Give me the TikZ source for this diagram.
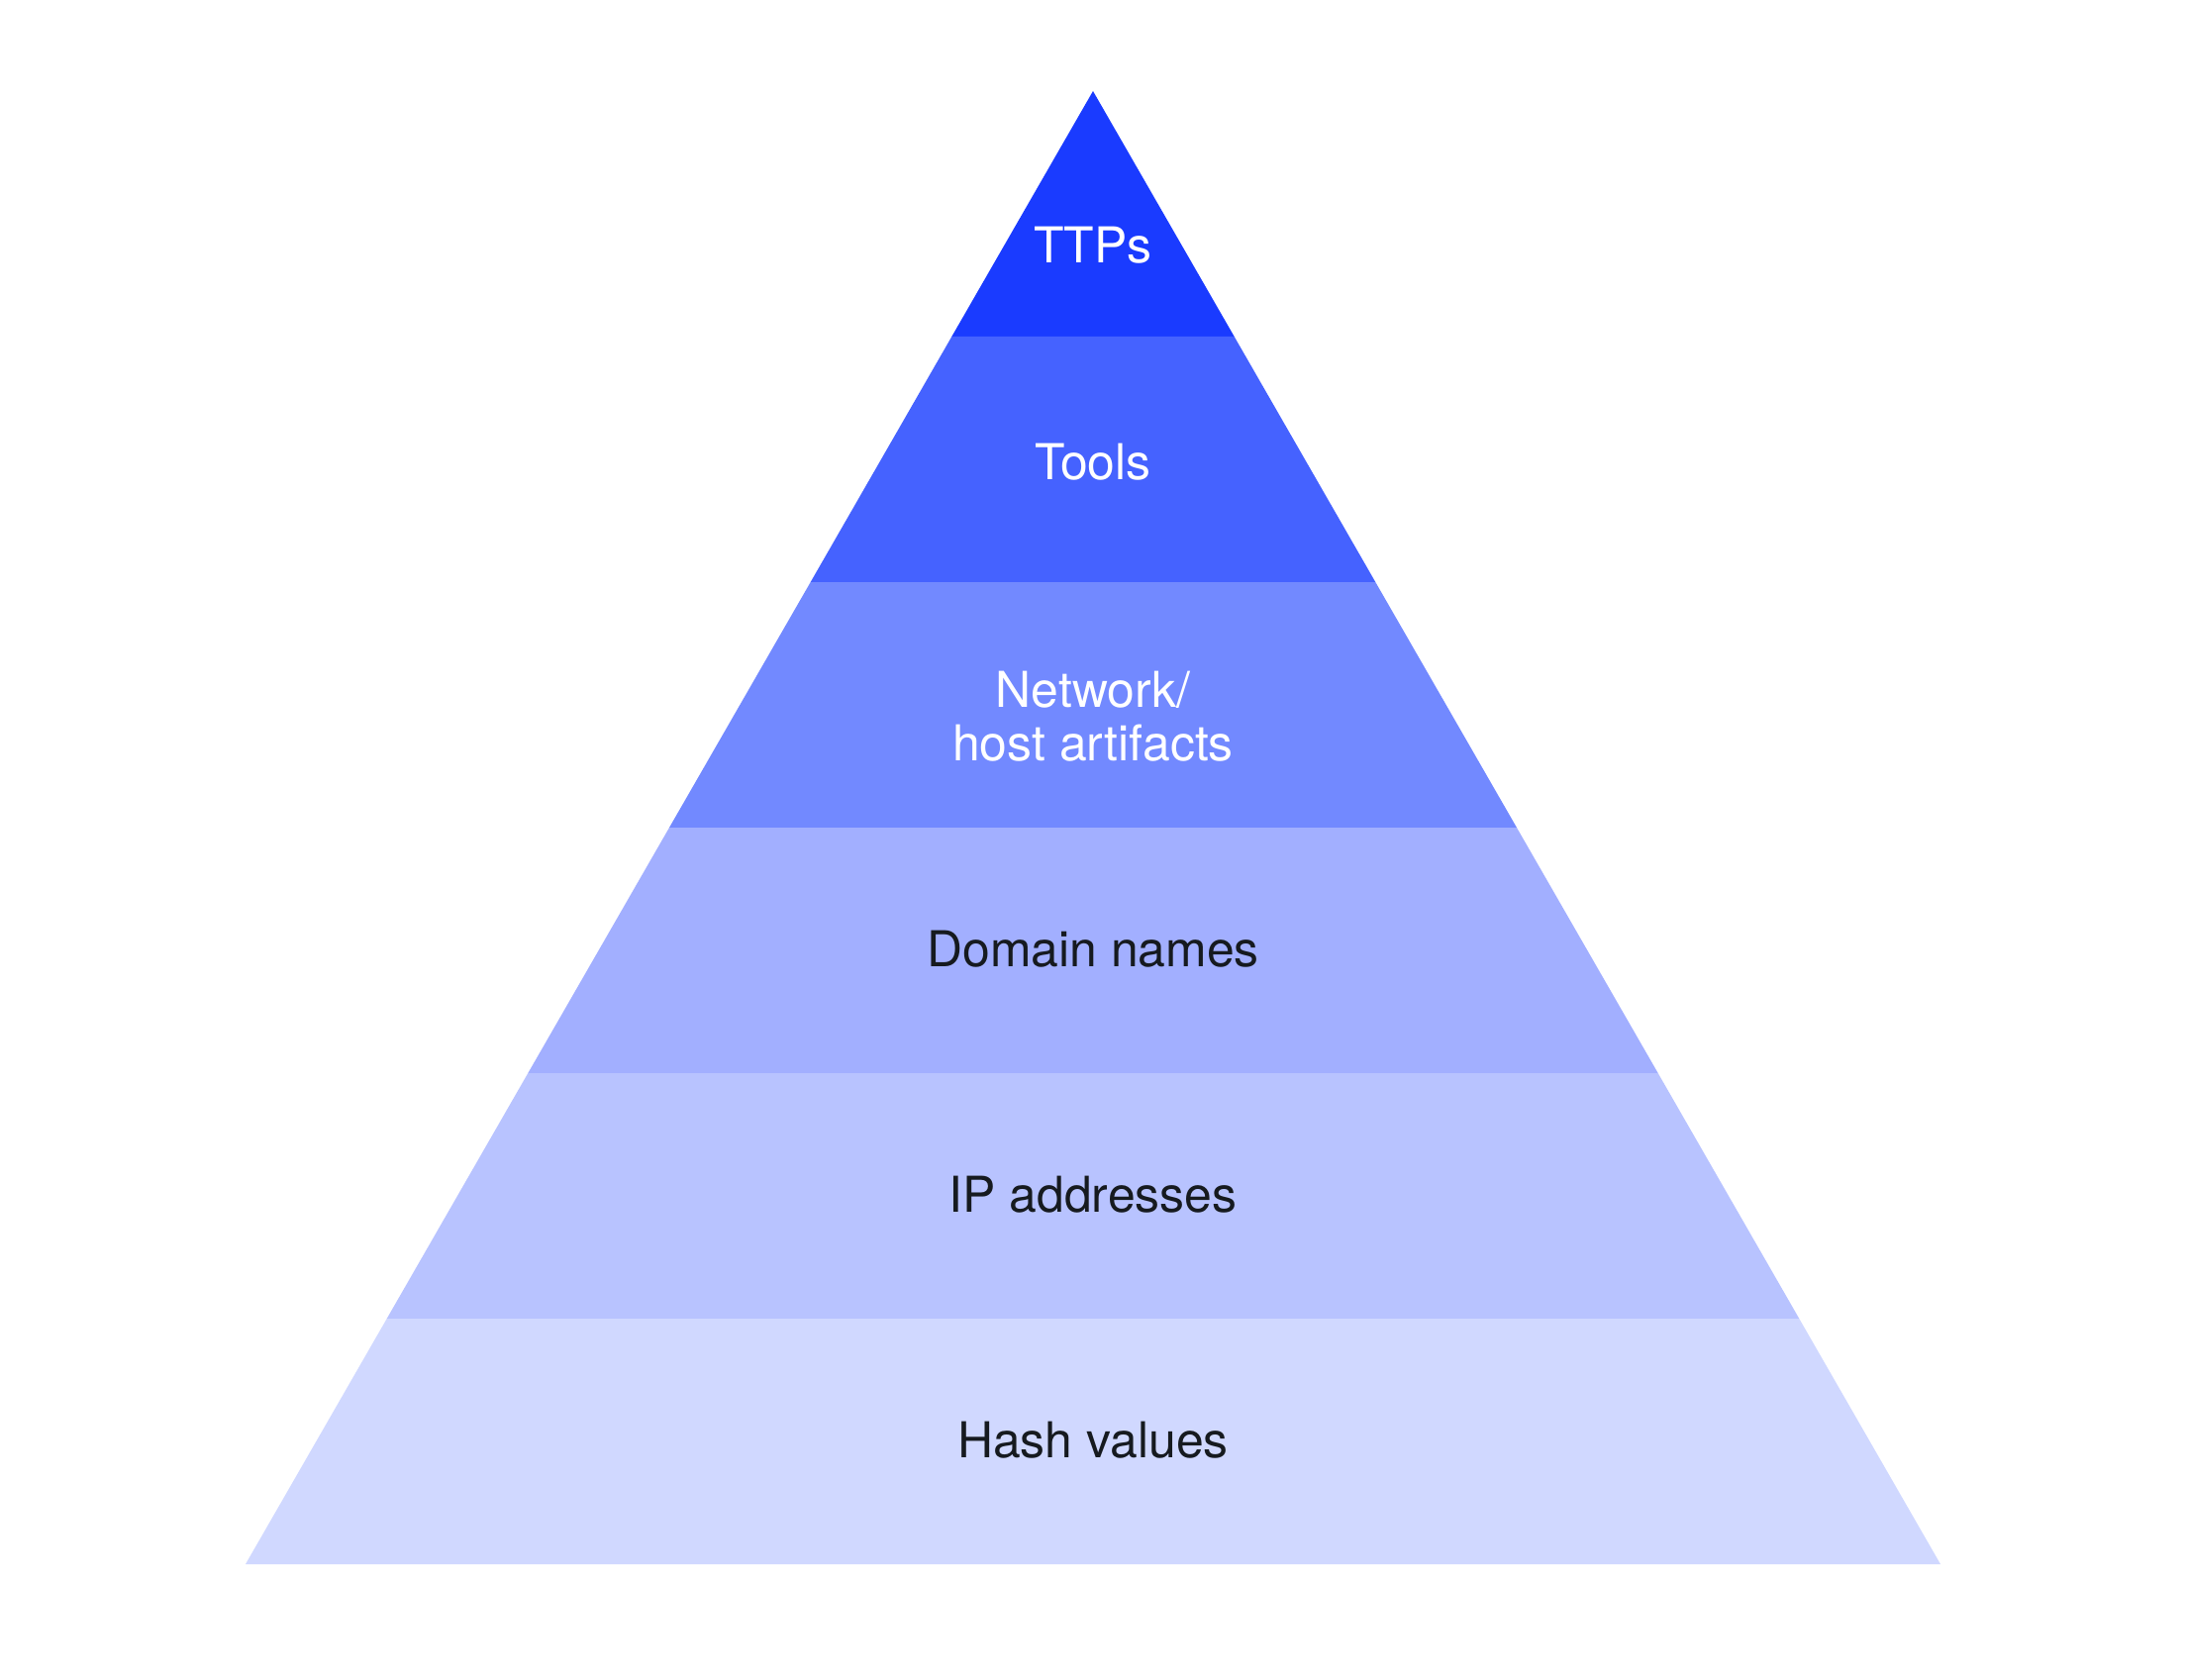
\documentclass[tikz,border=0pt]{standalone}
\usepackage{fontspec}
\setmainfont{TeX Gyre Heros}
\usepackage{tikz}
\usetikzlibrary{positioning}

\definecolor{ttpblue}{HTML}{1A3BFF}
\definecolor{toolblue}{HTML}{4562FF}
\definecolor{netblue}{HTML}{7289FF}
\definecolor{domblue}{HTML}{A2AFFF}
\definecolor{ipblue}{HTML}{B8C3FF}
\definecolor{hashblue}{HTML}{D0D8FF}
\definecolor{darktext}{HTML}{161A1F}

\tikzset{
  lightlabel/.style={font=\fontsize{14.2}{15.4}\selectfont, text=white, align=center},
  darklabel/.style={font=\fontsize{14.2}{15.4}\selectfont, text=darktext, align=center}
}

\begin{document}
\begin{tikzpicture}
\useasboundingbox (0,0) rectangle (22.08,16.96);

% layers, top to bottom
\fill [ttpblue]  (11.04,16.04) -- (12.467,13.56) -- (9.613,13.56) -- cycle;
\fill [toolblue] (9.613,13.56) -- (12.467,13.56) -- (13.893,11.08) -- (8.187,11.08) -- cycle;
\fill [netblue]  (8.187,11.08) -- (13.893,11.08) -- (15.32,8.60) -- (6.76,8.60) -- cycle;
\fill [domblue]  (6.76,8.60) -- (15.32,8.60) -- (16.747,6.12) -- (5.333,6.12) -- cycle;
\fill [ipblue]   (5.333,6.12) -- (16.747,6.12) -- (18.173,3.64) -- (3.907,3.64) -- cycle;
\fill [hashblue] (3.907,3.64) -- (18.173,3.64) -- (19.60,1.16) -- (2.48,1.16) -- cycle;

\node[lightlabel] (ttps) at (11.04,14.48) {TTPs};
\node[lightlabel] (tools) at (11.04,12.29) {Tools};
\node[lightlabel] (artifacts) at (11.04,9.72) {Network/\\host artifacts};
\node[darklabel] (domains) at (11.04,7.37) {Domain names};
\node[darklabel] (ips) at (11.04,4.89) {IP addresses};
\node[darklabel] (hashes) at (11.04,2.41) {Hash values};
\end{tikzpicture}
\end{document}
